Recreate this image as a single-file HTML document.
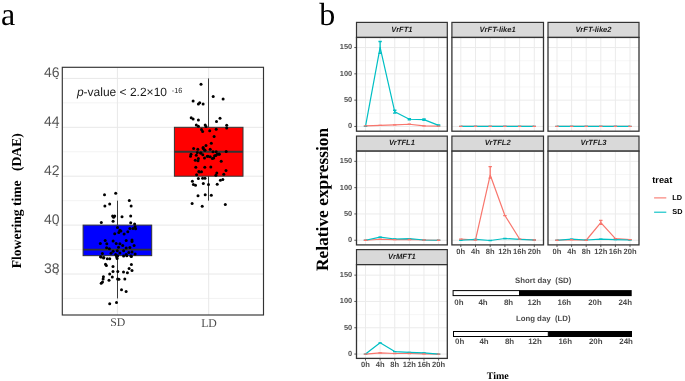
<!DOCTYPE html>
<html><head><meta charset="utf-8"><style>
html,body{margin:0;padding:0;background:#fff;}
svg{display:block;will-change:transform;text-rendering:geometricPrecision;}
</style></head><body>
<svg width="685" height="381" viewBox="0 0 685 381">
<rect width="685" height="381" fill="#fff"/>
<rect x="62.3" y="67.3" width="201.2" height="247.7" fill="#fff"/>
<line x1="62.3" x2="263.5" y1="298.45" y2="298.45" stroke="#f0f0f0" stroke-width="0.8"/>
<line x1="62.3" x2="263.5" y1="249.55" y2="249.55" stroke="#f0f0f0" stroke-width="0.8"/>
<line x1="62.3" x2="263.5" y1="200.65" y2="200.65" stroke="#f0f0f0" stroke-width="0.8"/>
<line x1="62.3" x2="263.5" y1="151.75" y2="151.75" stroke="#f0f0f0" stroke-width="0.8"/>
<line x1="62.3" x2="263.5" y1="102.85" y2="102.85" stroke="#f0f0f0" stroke-width="0.8"/>
<line x1="62.3" x2="263.5" y1="274.00" y2="274.00" stroke="#e8e8e8" stroke-width="1"/>
<line x1="62.3" x2="263.5" y1="225.10" y2="225.10" stroke="#e8e8e8" stroke-width="1"/>
<line x1="62.3" x2="263.5" y1="176.20" y2="176.20" stroke="#e8e8e8" stroke-width="1"/>
<line x1="62.3" x2="263.5" y1="127.30" y2="127.30" stroke="#e8e8e8" stroke-width="1"/>
<line x1="62.3" x2="263.5" y1="78.40" y2="78.40" stroke="#e8e8e8" stroke-width="1"/>
<line x1="117.4" x2="117.4" y1="67.3" y2="315.0" stroke="#e8e8e8" stroke-width="1"/>
<line x1="208.7" x2="208.7" y1="67.3" y2="315.0" stroke="#e8e8e8" stroke-width="1"/>
<line x1="117.5" x2="117.5" y1="200.65" y2="298.45" stroke="#3a3a3a" stroke-width="1"/>
<rect x="83.10" y="225.10" width="68.60" height="30.56" fill="#0000ff" stroke="#333" stroke-width="1"/>
<line x1="83.10" x2="151.70" y1="249.55" y2="249.55" stroke="#333" stroke-width="1.8"/>
<line x1="208.5" x2="208.5" y1="78.40" y2="200.65" stroke="#3a3a3a" stroke-width="1"/>
<rect x="174.40" y="127.30" width="68.60" height="48.90" fill="#ff0000" stroke="#333" stroke-width="1"/>
<line x1="174.40" x2="243.00" y1="151.75" y2="151.75" stroke="#333" stroke-width="1.8"/>
<g fill="#000"><circle cx="104.5" cy="194.7" r="1.5"/><circle cx="115.7" cy="193.2" r="1.5"/><circle cx="129.3" cy="200.5" r="1.5"/><circle cx="109.7" cy="203.9" r="1.5"/><circle cx="104.9" cy="206.0" r="1.5"/><circle cx="131.1" cy="206.0" r="1.5"/><circle cx="112.6" cy="215.9" r="1.5"/><circle cx="114.7" cy="215.9" r="1.5"/><circle cx="113.6" cy="217.3" r="1.5"/><circle cx="122.0" cy="216.7" r="1.5"/><circle cx="130.7" cy="215.9" r="1.5"/><circle cx="113.1" cy="221.2" r="1.5"/><circle cx="101.3" cy="222.6" r="1.5"/><circle cx="130.7" cy="222.8" r="1.5"/><circle cx="134.6" cy="224.0" r="1.5"/><circle cx="135.1" cy="226.7" r="1.5"/><circle cx="117.5" cy="227.5" r="1.5"/><circle cx="129.9" cy="228.5" r="1.5"/><circle cx="133.0" cy="228.5" r="1.5"/><circle cx="135.6" cy="228.8" r="1.5"/><circle cx="119.9" cy="230.2" r="1.5"/><circle cx="120.9" cy="230.9" r="1.5"/><circle cx="118.8" cy="232.5" r="1.5"/><circle cx="127.8" cy="231.7" r="1.5"/><circle cx="114.7" cy="233.7" r="1.5"/><circle cx="124.1" cy="234.1" r="1.5"/><circle cx="105.2" cy="240.4" r="1.5"/><circle cx="113.1" cy="241.1" r="1.5"/><circle cx="126.2" cy="240.4" r="1.5"/><circle cx="132.0" cy="240.0" r="1.5"/><circle cx="132.0" cy="241.4" r="1.5"/><circle cx="100.3" cy="243.5" r="1.5"/><circle cx="106.8" cy="243.8" r="1.5"/><circle cx="116.2" cy="243.5" r="1.5"/><circle cx="119.9" cy="243.8" r="1.5"/><circle cx="122.7" cy="245.6" r="1.5"/><circle cx="134.1" cy="245.6" r="1.5"/><circle cx="118.5" cy="247.2" r="1.5"/><circle cx="106.6" cy="247.7" r="1.5"/><circle cx="109.4" cy="248.7" r="1.5"/><circle cx="126.2" cy="248.0" r="1.5"/><circle cx="129.9" cy="247.4" r="1.5"/><circle cx="117.3" cy="250.8" r="1.5"/><circle cx="113.1" cy="251.2" r="1.5"/><circle cx="123.6" cy="250.8" r="1.5"/><circle cx="111.0" cy="253.3" r="1.5"/><circle cx="102.4" cy="253.5" r="1.5"/><circle cx="119.9" cy="252.9" r="1.5"/><circle cx="128.8" cy="252.4" r="1.5"/><circle cx="132.0" cy="251.9" r="1.5"/><circle cx="135.1" cy="254.0" r="1.5"/><circle cx="115.7" cy="254.5" r="1.5"/><circle cx="126.2" cy="254.5" r="1.5"/><circle cx="123.6" cy="256.1" r="1.5"/><circle cx="130.9" cy="256.1" r="1.5"/><circle cx="116.7" cy="256.6" r="1.5"/><circle cx="100.5" cy="256.8" r="1.5"/><circle cx="103.6" cy="257.9" r="1.5"/><circle cx="107.3" cy="258.7" r="1.5"/><circle cx="109.7" cy="258.7" r="1.5"/><circle cx="117.1" cy="258.5" r="1.5"/><circle cx="101.2" cy="257.0" r="1.5"/><circle cx="103.8" cy="257.6" r="1.5"/><circle cx="116.9" cy="257.0" r="1.5"/><circle cx="117.6" cy="255.7" r="1.5"/><circle cx="126.8" cy="255.7" r="1.5"/><circle cx="131.4" cy="256.6" r="1.5"/><circle cx="105.5" cy="264.2" r="1.5"/><circle cx="106.4" cy="265.5" r="1.5"/><circle cx="113.0" cy="266.6" r="1.5"/><circle cx="131.4" cy="264.5" r="1.5"/><circle cx="129.1" cy="268.4" r="1.5"/><circle cx="132.0" cy="270.5" r="1.5"/><circle cx="113.0" cy="271.4" r="1.5"/><circle cx="117.8" cy="271.4" r="1.5"/><circle cx="123.5" cy="272.1" r="1.5"/><circle cx="127.4" cy="272.7" r="1.5"/><circle cx="109.7" cy="274.0" r="1.5"/><circle cx="103.4" cy="276.7" r="1.5"/><circle cx="112.3" cy="277.1" r="1.5"/><circle cx="103.1" cy="278.9" r="1.5"/><circle cx="117.6" cy="278.9" r="1.5"/><circle cx="118.9" cy="279.3" r="1.5"/><circle cx="124.8" cy="279.0" r="1.5"/><circle cx="109.0" cy="280.2" r="1.5"/><circle cx="102.5" cy="281.9" r="1.5"/><circle cx="101.2" cy="283.2" r="1.5"/><circle cx="121.5" cy="289.8" r="1.5"/><circle cx="126.1" cy="291.5" r="1.5"/><circle cx="109.7" cy="303.8" r="1.5"/><circle cx="116.5" cy="302.5" r="1.5"/><circle cx="201.0" cy="84.2" r="1.5"/><circle cx="213.2" cy="96.4" r="1.5"/><circle cx="223.1" cy="98.9" r="1.5"/><circle cx="193.1" cy="100.9" r="1.5"/><circle cx="198.4" cy="104.1" r="1.5"/><circle cx="199.7" cy="102.8" r="1.5"/><circle cx="203.1" cy="104.1" r="1.5"/><circle cx="191.2" cy="117.7" r="1.5"/><circle cx="193.1" cy="119.0" r="1.5"/><circle cx="198.4" cy="119.9" r="1.5"/><circle cx="220.0" cy="118.3" r="1.5"/><circle cx="216.5" cy="121.6" r="1.5"/><circle cx="196.3" cy="125.1" r="1.5"/><circle cx="198.4" cy="126.2" r="1.5"/><circle cx="205.2" cy="125.1" r="1.5"/><circle cx="206.0" cy="126.4" r="1.5"/><circle cx="226.7" cy="125.3" r="1.5"/><circle cx="226.7" cy="128.0" r="1.5"/><circle cx="216.2" cy="129.3" r="1.5"/><circle cx="201.5" cy="129.5" r="1.5"/><circle cx="202.6" cy="131.4" r="1.5"/><circle cx="209.7" cy="130.8" r="1.5"/><circle cx="214.1" cy="136.4" r="1.5"/><circle cx="211.3" cy="143.2" r="1.5"/><circle cx="206.0" cy="145.5" r="1.5"/><circle cx="203.1" cy="147.6" r="1.5"/><circle cx="193.6" cy="148.6" r="1.5"/><circle cx="197.8" cy="149.3" r="1.5"/><circle cx="204.7" cy="150.0" r="1.5"/><circle cx="210.2" cy="149.3" r="1.5"/><circle cx="213.0" cy="151.8" r="1.5"/><circle cx="216.2" cy="151.8" r="1.5"/><circle cx="226.2" cy="151.6" r="1.5"/><circle cx="197.3" cy="152.6" r="1.5"/><circle cx="201.0" cy="153.1" r="1.5"/><circle cx="191.0" cy="154.2" r="1.5"/><circle cx="196.3" cy="155.2" r="1.5"/><circle cx="217.2" cy="154.2" r="1.5"/><circle cx="219.3" cy="154.2" r="1.5"/><circle cx="190.5" cy="156.3" r="1.5"/><circle cx="207.3" cy="156.3" r="1.5"/><circle cx="214.6" cy="155.8" r="1.5"/><circle cx="203.2" cy="148.4" r="1.5"/><circle cx="205.0" cy="150.2" r="1.5"/><circle cx="200.6" cy="153.1" r="1.5"/><circle cx="219.0" cy="154.1" r="1.5"/><circle cx="202.8" cy="154.8" r="1.5"/><circle cx="215.9" cy="155.4" r="1.5"/><circle cx="208.0" cy="156.3" r="1.5"/><circle cx="210.2" cy="156.8" r="1.5"/><circle cx="204.5" cy="158.1" r="1.5"/><circle cx="213.7" cy="158.1" r="1.5"/><circle cx="212.4" cy="158.5" r="1.5"/><circle cx="198.4" cy="158.5" r="1.5"/><circle cx="195.3" cy="160.3" r="1.5"/><circle cx="198.0" cy="160.7" r="1.5"/><circle cx="221.2" cy="161.3" r="1.5"/><circle cx="195.8" cy="167.3" r="1.5"/><circle cx="204.8" cy="167.3" r="1.5"/><circle cx="210.8" cy="167.1" r="1.5"/><circle cx="226.0" cy="170.6" r="1.5"/><circle cx="198.8" cy="171.5" r="1.5"/><circle cx="201.5" cy="171.8" r="1.5"/><circle cx="216.8" cy="173.0" r="1.5"/><circle cx="196.6" cy="174.7" r="1.5"/><circle cx="215.9" cy="175.2" r="1.5"/><circle cx="223.8" cy="174.3" r="1.5"/><circle cx="199.4" cy="171.9" r="1.5"/><circle cx="198.4" cy="178.6" r="1.5"/><circle cx="202.6" cy="178.2" r="1.5"/><circle cx="205.0" cy="178.2" r="1.5"/><circle cx="192.4" cy="181.3" r="1.5"/><circle cx="220.4" cy="180.3" r="1.5"/><circle cx="222.8" cy="179.4" r="1.5"/><circle cx="193.4" cy="184.5" r="1.5"/><circle cx="195.5" cy="185.2" r="1.5"/><circle cx="203.3" cy="183.6" r="1.5"/><circle cx="208.5" cy="184.5" r="1.5"/><circle cx="217.2" cy="184.2" r="1.5"/><circle cx="198.0" cy="195.7" r="1.5"/><circle cx="205.2" cy="194.7" r="1.5"/><circle cx="211.3" cy="195.2" r="1.5"/><circle cx="192.1" cy="203.6" r="1.5"/><circle cx="202.2" cy="206.2" r="1.5"/><circle cx="225.3" cy="204.4" r="1.5"/></g>
<rect x="62.3" y="67.3" width="201.2" height="247.7" fill="none" stroke="#333" stroke-width="1.15"/>
<text x="59.6" y="77.00" font-family='"Liberation Sans", sans-serif' font-size="14" fill="#555" text-anchor="end">46</text>
<line x1="55.8" x2="57.8" y1="78.40" y2="78.40" stroke="#555" stroke-width="1"/>
<text x="59.6" y="125.90" font-family='"Liberation Sans", sans-serif' font-size="14" fill="#555" text-anchor="end">44</text>
<line x1="55.8" x2="57.8" y1="127.30" y2="127.30" stroke="#555" stroke-width="1"/>
<text x="59.6" y="174.80" font-family='"Liberation Sans", sans-serif' font-size="14" fill="#555" text-anchor="end">42</text>
<line x1="55.8" x2="57.8" y1="176.20" y2="176.20" stroke="#555" stroke-width="1"/>
<text x="59.6" y="223.70" font-family='"Liberation Sans", sans-serif' font-size="14" fill="#555" text-anchor="end">40</text>
<line x1="55.8" x2="57.8" y1="225.10" y2="225.10" stroke="#555" stroke-width="1"/>
<text x="59.6" y="272.60" font-family='"Liberation Sans", sans-serif' font-size="14" fill="#555" text-anchor="end">38</text>
<line x1="55.8" x2="57.8" y1="274.00" y2="274.00" stroke="#555" stroke-width="1"/>
<text x="117.8" y="325.8" font-family='"Liberation Serif", serif' font-size="11.8" fill="#4d4d4d" text-anchor="middle">SD</text>
<text x="209" y="327.3" font-family='"Liberation Serif", serif' font-size="11.8" fill="#4d4d4d" text-anchor="middle">LD</text>
<text x="76.9" y="95.8" font-family='"Liberation Sans", sans-serif' font-size="12" fill="#1a1a1a"><tspan font-style="italic">p</tspan>-value &lt; 2.2×10</text>
<text x="171.8" y="93.1" font-family='"Liberation Sans", sans-serif' font-size="7.4" fill="#1a1a1a">-16</text>
<text transform="translate(21.1,268.3) rotate(-90)" font-family='"Liberation Serif", serif' font-size="13.6" font-weight="bold" fill="#000">Flowering time</text>
<text transform="translate(21.1,171) rotate(-90)" font-family='"Liberation Serif", serif' font-size="13.6" font-weight="bold" fill="#000">(DAE)</text>
<text x="1" y="25" font-family='"Liberation Serif", serif' font-size="32" fill="#000">a</text>
<text x="319.2" y="25" font-family='"Liberation Serif", serif' font-size="32" fill="#000">b</text>
<rect x="356.5" y="22.4" width="90.8" height="15.05" fill="#d9d9d9" stroke="#333" stroke-width="1.2"/>
<text x="401.90" y="31.60" font-family='"Liberation Sans", sans-serif' font-size="7.6" font-weight="bold" font-style="italic" fill="#1a1a1a" text-anchor="middle">VrFT1</text>
<rect x="356.5" y="37.45" width="90.8" height="93.75" fill="#fff"/>
<line x1="356.5" x2="447.3" y1="113.30" y2="113.30" stroke="#f0f0f0" stroke-width="0.6"/>
<line x1="356.5" x2="447.3" y1="87.00" y2="87.00" stroke="#f0f0f0" stroke-width="0.6"/>
<line x1="356.5" x2="447.3" y1="60.70" y2="60.70" stroke="#f0f0f0" stroke-width="0.6"/>
<line x1="356.5" x2="447.3" y1="126.45" y2="126.45" stroke="#ebebeb" stroke-width="1"/>
<line x1="356.5" x2="447.3" y1="100.15" y2="100.15" stroke="#ebebeb" stroke-width="1"/>
<line x1="356.5" x2="447.3" y1="73.85" y2="73.85" stroke="#ebebeb" stroke-width="1"/>
<line x1="356.5" x2="447.3" y1="47.55" y2="47.55" stroke="#ebebeb" stroke-width="1"/>
<line x1="365.50" x2="365.50" y1="37.45" y2="131.2" stroke="#ebebeb" stroke-width="1"/>
<line x1="380.12" x2="380.12" y1="37.45" y2="131.2" stroke="#ebebeb" stroke-width="1"/>
<line x1="394.74" x2="394.74" y1="37.45" y2="131.2" stroke="#ebebeb" stroke-width="1"/>
<line x1="409.36" x2="409.36" y1="37.45" y2="131.2" stroke="#ebebeb" stroke-width="1"/>
<line x1="423.98" x2="423.98" y1="37.45" y2="131.2" stroke="#ebebeb" stroke-width="1"/>
<line x1="438.60" x2="438.60" y1="37.45" y2="131.2" stroke="#ebebeb" stroke-width="1"/>
<polyline points="365.50,125.92 380.12,125.40 394.74,124.87 409.36,124.24 423.98,125.82 438.60,126.03" fill="none" stroke="#F8766D" stroke-width="1.2" stroke-linejoin="round"/>
<polyline points="365.50,126.45 380.12,47.29 394.74,111.72 409.36,119.24 423.98,119.61 438.60,125.40" fill="none" stroke="#00BFC4" stroke-width="1.2" stroke-linejoin="round"/>
<path d="M363.80,126.45h3.4M363.80,126.45h3.4" stroke="#00BFC4" stroke-width="1.3" fill="none"/>
<path d="M378.42,53.34h3.4M378.42,41.50h3.4M380.12,53.34V41.50" stroke="#00BFC4" stroke-width="1.3" fill="none"/>
<path d="M393.04,113.04h3.4M393.04,110.25h3.4M394.74,113.04V110.25" stroke="#00BFC4" stroke-width="1.3" fill="none"/>
<path d="M407.66,119.88h3.4M407.66,118.56h3.4M409.36,119.88V118.56" stroke="#00BFC4" stroke-width="1.3" fill="none"/>
<path d="M422.28,120.24h3.4M422.28,118.98h3.4M423.98,120.24V118.98" stroke="#00BFC4" stroke-width="1.3" fill="none"/>
<path d="M436.90,125.82h3.4M436.90,124.98h3.4M438.60,125.82V124.98" stroke="#00BFC4" stroke-width="1.3" fill="none"/>
<path d="M363.80,125.92h3.4M363.80,125.92h3.4" stroke="#F8766D" stroke-width="1.3" fill="none"/>
<path d="M378.42,125.40h3.4M378.42,125.40h3.4" stroke="#F8766D" stroke-width="1.3" fill="none"/>
<path d="M393.04,124.87h3.4M393.04,124.87h3.4" stroke="#F8766D" stroke-width="1.3" fill="none"/>
<path d="M407.66,124.24h3.4M407.66,124.24h3.4" stroke="#F8766D" stroke-width="1.3" fill="none"/>
<path d="M422.28,125.82h3.4M422.28,125.82h3.4" stroke="#F8766D" stroke-width="1.3" fill="none"/>
<path d="M436.90,126.03h3.4M436.90,126.03h3.4" stroke="#F8766D" stroke-width="1.3" fill="none"/>
<rect x="356.5" y="37.45" width="90.8" height="93.75" fill="none" stroke="#333" stroke-width="1.3"/>
<text x="352.20" y="128.35" font-family='"Liberation Sans", sans-serif' font-size="7.4" font-weight="bold" fill="#4d4d4d" text-anchor="end">0</text>
<line x1="354.30" x2="356.50" y1="126.45" y2="126.45" stroke="#333" stroke-width="0.8"/>
<text x="352.20" y="102.05" font-family='"Liberation Sans", sans-serif' font-size="7.4" font-weight="bold" fill="#4d4d4d" text-anchor="end">50</text>
<line x1="354.30" x2="356.50" y1="100.15" y2="100.15" stroke="#333" stroke-width="0.8"/>
<text x="352.20" y="75.75" font-family='"Liberation Sans", sans-serif' font-size="7.4" font-weight="bold" fill="#4d4d4d" text-anchor="end">100</text>
<line x1="354.30" x2="356.50" y1="73.85" y2="73.85" stroke="#333" stroke-width="0.8"/>
<text x="352.20" y="49.45" font-family='"Liberation Sans", sans-serif' font-size="7.4" font-weight="bold" fill="#4d4d4d" text-anchor="end">150</text>
<line x1="354.30" x2="356.50" y1="47.55" y2="47.55" stroke="#333" stroke-width="0.8"/>
<rect x="451.9" y="22.4" width="91.6" height="15.05" fill="#d9d9d9" stroke="#333" stroke-width="1.2"/>
<text x="497.70" y="31.60" font-family='"Liberation Sans", sans-serif' font-size="7.6" font-weight="bold" font-style="italic" fill="#1a1a1a" text-anchor="middle">VrFT-like1</text>
<rect x="451.9" y="37.45" width="91.6" height="93.75" fill="#fff"/>
<line x1="451.9" x2="543.5" y1="113.30" y2="113.30" stroke="#f0f0f0" stroke-width="0.6"/>
<line x1="451.9" x2="543.5" y1="87.00" y2="87.00" stroke="#f0f0f0" stroke-width="0.6"/>
<line x1="451.9" x2="543.5" y1="60.70" y2="60.70" stroke="#f0f0f0" stroke-width="0.6"/>
<line x1="451.9" x2="543.5" y1="126.45" y2="126.45" stroke="#ebebeb" stroke-width="1"/>
<line x1="451.9" x2="543.5" y1="100.15" y2="100.15" stroke="#ebebeb" stroke-width="1"/>
<line x1="451.9" x2="543.5" y1="73.85" y2="73.85" stroke="#ebebeb" stroke-width="1"/>
<line x1="451.9" x2="543.5" y1="47.55" y2="47.55" stroke="#ebebeb" stroke-width="1"/>
<line x1="460.80" x2="460.80" y1="37.45" y2="131.2" stroke="#ebebeb" stroke-width="1"/>
<line x1="475.50" x2="475.50" y1="37.45" y2="131.2" stroke="#ebebeb" stroke-width="1"/>
<line x1="490.20" x2="490.20" y1="37.45" y2="131.2" stroke="#ebebeb" stroke-width="1"/>
<line x1="504.90" x2="504.90" y1="37.45" y2="131.2" stroke="#ebebeb" stroke-width="1"/>
<line x1="519.60" x2="519.60" y1="37.45" y2="131.2" stroke="#ebebeb" stroke-width="1"/>
<line x1="534.30" x2="534.30" y1="37.45" y2="131.2" stroke="#ebebeb" stroke-width="1"/>
<polyline points="460.80,126.29 475.50,126.29 490.20,126.29 504.90,126.29 519.60,126.29 534.30,126.29" fill="none" stroke="#F8766D" stroke-width="1.2" stroke-linejoin="round"/>
<polyline points="460.80,126.29 475.50,126.29 490.20,126.29 504.90,126.29 519.60,126.29 534.30,126.29" fill="none" stroke="#00BFC4" stroke-width="1.2" stroke-linejoin="round"/>
<path d="M459.10,126.29h3.4M459.10,126.29h3.4" stroke="#00BFC4" stroke-width="1.3" fill="none"/>
<path d="M473.80,126.29h3.4M473.80,126.29h3.4" stroke="#00BFC4" stroke-width="1.3" fill="none"/>
<path d="M488.50,126.29h3.4M488.50,126.29h3.4" stroke="#00BFC4" stroke-width="1.3" fill="none"/>
<path d="M503.20,126.29h3.4M503.20,126.29h3.4" stroke="#00BFC4" stroke-width="1.3" fill="none"/>
<path d="M517.90,126.29h3.4M517.90,126.29h3.4" stroke="#00BFC4" stroke-width="1.3" fill="none"/>
<path d="M532.60,126.29h3.4M532.60,126.29h3.4" stroke="#00BFC4" stroke-width="1.3" fill="none"/>
<path d="M459.10,126.29h3.4M459.10,126.29h3.4" stroke="#F8766D" stroke-width="1.3" fill="none"/>
<path d="M473.80,126.29h3.4M473.80,126.29h3.4" stroke="#F8766D" stroke-width="1.3" fill="none"/>
<path d="M488.50,126.29h3.4M488.50,126.29h3.4" stroke="#F8766D" stroke-width="1.3" fill="none"/>
<path d="M503.20,126.29h3.4M503.20,126.29h3.4" stroke="#F8766D" stroke-width="1.3" fill="none"/>
<path d="M517.90,126.29h3.4M517.90,126.29h3.4" stroke="#F8766D" stroke-width="1.3" fill="none"/>
<path d="M532.60,126.29h3.4M532.60,126.29h3.4" stroke="#F8766D" stroke-width="1.3" fill="none"/>
<rect x="451.9" y="37.45" width="91.6" height="93.75" fill="none" stroke="#333" stroke-width="1.3"/>
<rect x="548.0" y="22.4" width="91.0" height="15.05" fill="#d9d9d9" stroke="#333" stroke-width="1.2"/>
<text x="593.50" y="31.60" font-family='"Liberation Sans", sans-serif' font-size="7.6" font-weight="bold" font-style="italic" fill="#1a1a1a" text-anchor="middle">VrFT-like2</text>
<rect x="548.0" y="37.45" width="91.0" height="93.75" fill="#fff"/>
<line x1="548.0" x2="639.0" y1="113.30" y2="113.30" stroke="#f0f0f0" stroke-width="0.6"/>
<line x1="548.0" x2="639.0" y1="87.00" y2="87.00" stroke="#f0f0f0" stroke-width="0.6"/>
<line x1="548.0" x2="639.0" y1="60.70" y2="60.70" stroke="#f0f0f0" stroke-width="0.6"/>
<line x1="548.0" x2="639.0" y1="126.45" y2="126.45" stroke="#ebebeb" stroke-width="1"/>
<line x1="548.0" x2="639.0" y1="100.15" y2="100.15" stroke="#ebebeb" stroke-width="1"/>
<line x1="548.0" x2="639.0" y1="73.85" y2="73.85" stroke="#ebebeb" stroke-width="1"/>
<line x1="548.0" x2="639.0" y1="47.55" y2="47.55" stroke="#ebebeb" stroke-width="1"/>
<line x1="557.00" x2="557.00" y1="37.45" y2="131.2" stroke="#ebebeb" stroke-width="1"/>
<line x1="571.60" x2="571.60" y1="37.45" y2="131.2" stroke="#ebebeb" stroke-width="1"/>
<line x1="586.20" x2="586.20" y1="37.45" y2="131.2" stroke="#ebebeb" stroke-width="1"/>
<line x1="600.80" x2="600.80" y1="37.45" y2="131.2" stroke="#ebebeb" stroke-width="1"/>
<line x1="615.40" x2="615.40" y1="37.45" y2="131.2" stroke="#ebebeb" stroke-width="1"/>
<line x1="630.00" x2="630.00" y1="37.45" y2="131.2" stroke="#ebebeb" stroke-width="1"/>
<polyline points="557.00,126.29 571.60,126.29 586.20,126.29 600.80,126.29 615.40,126.29 630.00,126.29" fill="none" stroke="#F8766D" stroke-width="1.2" stroke-linejoin="round"/>
<polyline points="557.00,126.29 571.60,126.29 586.20,126.29 600.80,126.29 615.40,126.29 630.00,126.29" fill="none" stroke="#00BFC4" stroke-width="1.2" stroke-linejoin="round"/>
<path d="M555.30,126.29h3.4M555.30,126.29h3.4" stroke="#00BFC4" stroke-width="1.3" fill="none"/>
<path d="M569.90,126.29h3.4M569.90,126.29h3.4" stroke="#00BFC4" stroke-width="1.3" fill="none"/>
<path d="M584.50,126.29h3.4M584.50,126.29h3.4" stroke="#00BFC4" stroke-width="1.3" fill="none"/>
<path d="M599.10,126.29h3.4M599.10,126.29h3.4" stroke="#00BFC4" stroke-width="1.3" fill="none"/>
<path d="M613.70,126.29h3.4M613.70,126.29h3.4" stroke="#00BFC4" stroke-width="1.3" fill="none"/>
<path d="M628.30,126.29h3.4M628.30,126.29h3.4" stroke="#00BFC4" stroke-width="1.3" fill="none"/>
<path d="M555.30,126.29h3.4M555.30,126.29h3.4" stroke="#F8766D" stroke-width="1.3" fill="none"/>
<path d="M569.90,126.29h3.4M569.90,126.29h3.4" stroke="#F8766D" stroke-width="1.3" fill="none"/>
<path d="M584.50,126.29h3.4M584.50,126.29h3.4" stroke="#F8766D" stroke-width="1.3" fill="none"/>
<path d="M599.10,126.29h3.4M599.10,126.29h3.4" stroke="#F8766D" stroke-width="1.3" fill="none"/>
<path d="M613.70,126.29h3.4M613.70,126.29h3.4" stroke="#F8766D" stroke-width="1.3" fill="none"/>
<path d="M628.30,126.29h3.4M628.30,126.29h3.4" stroke="#F8766D" stroke-width="1.3" fill="none"/>
<rect x="548.0" y="37.45" width="91.0" height="93.75" fill="none" stroke="#333" stroke-width="1.3"/>
<rect x="356.5" y="136.1" width="90.8" height="15.05" fill="#d9d9d9" stroke="#333" stroke-width="1.2"/>
<text x="401.90" y="145.30" font-family='"Liberation Sans", sans-serif' font-size="7.6" font-weight="bold" font-style="italic" fill="#1a1a1a" text-anchor="middle">VrTFL1</text>
<rect x="356.5" y="151.15" width="90.8" height="93.75" fill="#fff"/>
<line x1="356.5" x2="447.3" y1="227.10" y2="227.10" stroke="#f0f0f0" stroke-width="0.6"/>
<line x1="356.5" x2="447.3" y1="200.80" y2="200.80" stroke="#f0f0f0" stroke-width="0.6"/>
<line x1="356.5" x2="447.3" y1="174.50" y2="174.50" stroke="#f0f0f0" stroke-width="0.6"/>
<line x1="356.5" x2="447.3" y1="240.25" y2="240.25" stroke="#ebebeb" stroke-width="1"/>
<line x1="356.5" x2="447.3" y1="213.95" y2="213.95" stroke="#ebebeb" stroke-width="1"/>
<line x1="356.5" x2="447.3" y1="187.65" y2="187.65" stroke="#ebebeb" stroke-width="1"/>
<line x1="356.5" x2="447.3" y1="161.35" y2="161.35" stroke="#ebebeb" stroke-width="1"/>
<line x1="365.50" x2="365.50" y1="151.15" y2="244.9" stroke="#ebebeb" stroke-width="1"/>
<line x1="380.12" x2="380.12" y1="151.15" y2="244.9" stroke="#ebebeb" stroke-width="1"/>
<line x1="394.74" x2="394.74" y1="151.15" y2="244.9" stroke="#ebebeb" stroke-width="1"/>
<line x1="409.36" x2="409.36" y1="151.15" y2="244.9" stroke="#ebebeb" stroke-width="1"/>
<line x1="423.98" x2="423.98" y1="151.15" y2="244.9" stroke="#ebebeb" stroke-width="1"/>
<line x1="438.60" x2="438.60" y1="151.15" y2="244.9" stroke="#ebebeb" stroke-width="1"/>
<polyline points="365.50,240.25 380.12,239.25 394.74,239.72 409.36,239.51 423.98,239.99 438.60,240.25" fill="none" stroke="#F8766D" stroke-width="1.2" stroke-linejoin="round"/>
<polyline points="365.50,240.25 380.12,237.09 394.74,238.99 409.36,238.72 423.98,239.99 438.60,240.25" fill="none" stroke="#00BFC4" stroke-width="1.2" stroke-linejoin="round"/>
<path d="M363.80,240.25h3.4M363.80,240.25h3.4" stroke="#00BFC4" stroke-width="1.3" fill="none"/>
<path d="M378.42,237.09h3.4M378.42,237.09h3.4" stroke="#00BFC4" stroke-width="1.3" fill="none"/>
<path d="M393.04,238.99h3.4M393.04,238.99h3.4" stroke="#00BFC4" stroke-width="1.3" fill="none"/>
<path d="M407.66,238.72h3.4M407.66,238.72h3.4" stroke="#00BFC4" stroke-width="1.3" fill="none"/>
<path d="M422.28,239.99h3.4M422.28,239.99h3.4" stroke="#00BFC4" stroke-width="1.3" fill="none"/>
<path d="M436.90,240.25h3.4M436.90,240.25h3.4" stroke="#00BFC4" stroke-width="1.3" fill="none"/>
<path d="M363.80,240.25h3.4M363.80,240.25h3.4" stroke="#F8766D" stroke-width="1.3" fill="none"/>
<path d="M378.42,239.25h3.4M378.42,239.25h3.4" stroke="#F8766D" stroke-width="1.3" fill="none"/>
<path d="M393.04,239.72h3.4M393.04,239.72h3.4" stroke="#F8766D" stroke-width="1.3" fill="none"/>
<path d="M407.66,239.51h3.4M407.66,239.51h3.4" stroke="#F8766D" stroke-width="1.3" fill="none"/>
<path d="M422.28,239.99h3.4M422.28,239.99h3.4" stroke="#F8766D" stroke-width="1.3" fill="none"/>
<path d="M436.90,240.25h3.4M436.90,240.25h3.4" stroke="#F8766D" stroke-width="1.3" fill="none"/>
<rect x="356.5" y="151.15" width="90.8" height="93.75" fill="none" stroke="#333" stroke-width="1.3"/>
<text x="352.20" y="242.15" font-family='"Liberation Sans", sans-serif' font-size="7.4" font-weight="bold" fill="#4d4d4d" text-anchor="end">0</text>
<line x1="354.30" x2="356.50" y1="240.25" y2="240.25" stroke="#333" stroke-width="0.8"/>
<text x="352.20" y="215.85" font-family='"Liberation Sans", sans-serif' font-size="7.4" font-weight="bold" fill="#4d4d4d" text-anchor="end">50</text>
<line x1="354.30" x2="356.50" y1="213.95" y2="213.95" stroke="#333" stroke-width="0.8"/>
<text x="352.20" y="189.55" font-family='"Liberation Sans", sans-serif' font-size="7.4" font-weight="bold" fill="#4d4d4d" text-anchor="end">100</text>
<line x1="354.30" x2="356.50" y1="187.65" y2="187.65" stroke="#333" stroke-width="0.8"/>
<text x="352.20" y="163.25" font-family='"Liberation Sans", sans-serif' font-size="7.4" font-weight="bold" fill="#4d4d4d" text-anchor="end">150</text>
<line x1="354.30" x2="356.50" y1="161.35" y2="161.35" stroke="#333" stroke-width="0.8"/>
<rect x="451.9" y="136.1" width="91.6" height="15.05" fill="#d9d9d9" stroke="#333" stroke-width="1.2"/>
<text x="497.70" y="145.30" font-family='"Liberation Sans", sans-serif' font-size="7.6" font-weight="bold" font-style="italic" fill="#1a1a1a" text-anchor="middle">VrTFL2</text>
<rect x="451.9" y="151.15" width="91.6" height="93.75" fill="#fff"/>
<line x1="451.9" x2="543.5" y1="227.10" y2="227.10" stroke="#f0f0f0" stroke-width="0.6"/>
<line x1="451.9" x2="543.5" y1="200.80" y2="200.80" stroke="#f0f0f0" stroke-width="0.6"/>
<line x1="451.9" x2="543.5" y1="174.50" y2="174.50" stroke="#f0f0f0" stroke-width="0.6"/>
<line x1="451.9" x2="543.5" y1="240.25" y2="240.25" stroke="#ebebeb" stroke-width="1"/>
<line x1="451.9" x2="543.5" y1="213.95" y2="213.95" stroke="#ebebeb" stroke-width="1"/>
<line x1="451.9" x2="543.5" y1="187.65" y2="187.65" stroke="#ebebeb" stroke-width="1"/>
<line x1="451.9" x2="543.5" y1="161.35" y2="161.35" stroke="#ebebeb" stroke-width="1"/>
<line x1="460.80" x2="460.80" y1="151.15" y2="244.9" stroke="#ebebeb" stroke-width="1"/>
<line x1="475.50" x2="475.50" y1="151.15" y2="244.9" stroke="#ebebeb" stroke-width="1"/>
<line x1="490.20" x2="490.20" y1="151.15" y2="244.9" stroke="#ebebeb" stroke-width="1"/>
<line x1="504.90" x2="504.90" y1="151.15" y2="244.9" stroke="#ebebeb" stroke-width="1"/>
<line x1="519.60" x2="519.60" y1="151.15" y2="244.9" stroke="#ebebeb" stroke-width="1"/>
<line x1="534.30" x2="534.30" y1="151.15" y2="244.9" stroke="#ebebeb" stroke-width="1"/>
<polyline points="460.80,239.20 475.50,239.99 490.20,175.03 504.90,215.53 519.60,239.04 534.30,239.99" fill="none" stroke="#F8766D" stroke-width="1.2" stroke-linejoin="round"/>
<polyline points="460.80,240.25 475.50,239.46 490.20,240.51 504.90,238.51 519.60,239.46 534.30,239.99" fill="none" stroke="#00BFC4" stroke-width="1.2" stroke-linejoin="round"/>
<path d="M459.10,240.25h3.4M459.10,240.25h3.4" stroke="#00BFC4" stroke-width="1.3" fill="none"/>
<path d="M473.80,239.46h3.4M473.80,239.46h3.4" stroke="#00BFC4" stroke-width="1.3" fill="none"/>
<path d="M488.50,240.51h3.4M488.50,240.51h3.4" stroke="#00BFC4" stroke-width="1.3" fill="none"/>
<path d="M503.20,238.51h3.4M503.20,238.51h3.4" stroke="#00BFC4" stroke-width="1.3" fill="none"/>
<path d="M517.90,239.46h3.4M517.90,239.46h3.4" stroke="#00BFC4" stroke-width="1.3" fill="none"/>
<path d="M532.60,239.99h3.4M532.60,239.99h3.4" stroke="#00BFC4" stroke-width="1.3" fill="none"/>
<path d="M459.10,239.20h3.4M459.10,239.20h3.4" stroke="#F8766D" stroke-width="1.3" fill="none"/>
<path d="M473.80,239.99h3.4M473.80,239.99h3.4" stroke="#F8766D" stroke-width="1.3" fill="none"/>
<path d="M488.50,178.18h3.4M488.50,166.61h3.4M490.20,178.18V166.61" stroke="#F8766D" stroke-width="1.3" fill="none"/>
<path d="M503.20,215.53h3.4M503.20,215.53h3.4" stroke="#F8766D" stroke-width="1.3" fill="none"/>
<path d="M517.90,239.04h3.4M517.90,239.04h3.4" stroke="#F8766D" stroke-width="1.3" fill="none"/>
<path d="M532.60,239.99h3.4M532.60,239.99h3.4" stroke="#F8766D" stroke-width="1.3" fill="none"/>
<rect x="451.9" y="151.15" width="91.6" height="93.75" fill="none" stroke="#333" stroke-width="1.3"/>
<line x1="460.80" x2="460.80" y1="244.9" y2="247.10" stroke="#333" stroke-width="0.8"/>
<text x="460.80" y="253.50" font-family='"Liberation Sans", sans-serif' font-size="7.6" font-weight="bold" fill="#4d4d4d" text-anchor="middle">0h</text>
<line x1="475.50" x2="475.50" y1="244.9" y2="247.10" stroke="#333" stroke-width="0.8"/>
<text x="475.50" y="253.50" font-family='"Liberation Sans", sans-serif' font-size="7.6" font-weight="bold" fill="#4d4d4d" text-anchor="middle">4h</text>
<line x1="490.20" x2="490.20" y1="244.9" y2="247.10" stroke="#333" stroke-width="0.8"/>
<text x="490.20" y="253.50" font-family='"Liberation Sans", sans-serif' font-size="7.6" font-weight="bold" fill="#4d4d4d" text-anchor="middle">8h</text>
<line x1="504.90" x2="504.90" y1="244.9" y2="247.10" stroke="#333" stroke-width="0.8"/>
<text x="504.90" y="253.50" font-family='"Liberation Sans", sans-serif' font-size="7.6" font-weight="bold" fill="#4d4d4d" text-anchor="middle">12h</text>
<line x1="519.60" x2="519.60" y1="244.9" y2="247.10" stroke="#333" stroke-width="0.8"/>
<text x="519.60" y="253.50" font-family='"Liberation Sans", sans-serif' font-size="7.6" font-weight="bold" fill="#4d4d4d" text-anchor="middle">16h</text>
<line x1="534.30" x2="534.30" y1="244.9" y2="247.10" stroke="#333" stroke-width="0.8"/>
<text x="534.30" y="253.50" font-family='"Liberation Sans", sans-serif' font-size="7.6" font-weight="bold" fill="#4d4d4d" text-anchor="middle">20h</text>
<rect x="548.0" y="136.1" width="91.0" height="15.05" fill="#d9d9d9" stroke="#333" stroke-width="1.2"/>
<text x="593.50" y="145.30" font-family='"Liberation Sans", sans-serif' font-size="7.6" font-weight="bold" font-style="italic" fill="#1a1a1a" text-anchor="middle">VrTFL3</text>
<rect x="548.0" y="151.15" width="91.0" height="93.75" fill="#fff"/>
<line x1="548.0" x2="639.0" y1="227.10" y2="227.10" stroke="#f0f0f0" stroke-width="0.6"/>
<line x1="548.0" x2="639.0" y1="200.80" y2="200.80" stroke="#f0f0f0" stroke-width="0.6"/>
<line x1="548.0" x2="639.0" y1="174.50" y2="174.50" stroke="#f0f0f0" stroke-width="0.6"/>
<line x1="548.0" x2="639.0" y1="240.25" y2="240.25" stroke="#ebebeb" stroke-width="1"/>
<line x1="548.0" x2="639.0" y1="213.95" y2="213.95" stroke="#ebebeb" stroke-width="1"/>
<line x1="548.0" x2="639.0" y1="187.65" y2="187.65" stroke="#ebebeb" stroke-width="1"/>
<line x1="548.0" x2="639.0" y1="161.35" y2="161.35" stroke="#ebebeb" stroke-width="1"/>
<line x1="557.00" x2="557.00" y1="151.15" y2="244.9" stroke="#ebebeb" stroke-width="1"/>
<line x1="571.60" x2="571.60" y1="151.15" y2="244.9" stroke="#ebebeb" stroke-width="1"/>
<line x1="586.20" x2="586.20" y1="151.15" y2="244.9" stroke="#ebebeb" stroke-width="1"/>
<line x1="600.80" x2="600.80" y1="151.15" y2="244.9" stroke="#ebebeb" stroke-width="1"/>
<line x1="615.40" x2="615.40" y1="151.15" y2="244.9" stroke="#ebebeb" stroke-width="1"/>
<line x1="630.00" x2="630.00" y1="151.15" y2="244.9" stroke="#ebebeb" stroke-width="1"/>
<polyline points="557.00,240.25 571.60,239.72 586.20,240.25 600.80,222.58 615.40,238.67 630.00,239.72" fill="none" stroke="#F8766D" stroke-width="1.2" stroke-linejoin="round"/>
<polyline points="557.00,240.25 571.60,239.20 586.20,239.99 600.80,239.20 615.40,239.72 630.00,239.99" fill="none" stroke="#00BFC4" stroke-width="1.2" stroke-linejoin="round"/>
<path d="M555.30,240.25h3.4M555.30,240.25h3.4" stroke="#00BFC4" stroke-width="1.3" fill="none"/>
<path d="M569.90,239.20h3.4M569.90,239.20h3.4" stroke="#00BFC4" stroke-width="1.3" fill="none"/>
<path d="M584.50,239.99h3.4M584.50,239.99h3.4" stroke="#00BFC4" stroke-width="1.3" fill="none"/>
<path d="M599.10,239.20h3.4M599.10,239.20h3.4" stroke="#00BFC4" stroke-width="1.3" fill="none"/>
<path d="M613.70,239.72h3.4M613.70,239.72h3.4" stroke="#00BFC4" stroke-width="1.3" fill="none"/>
<path d="M628.30,239.99h3.4M628.30,239.99h3.4" stroke="#00BFC4" stroke-width="1.3" fill="none"/>
<path d="M555.30,240.25h3.4M555.30,240.25h3.4" stroke="#F8766D" stroke-width="1.3" fill="none"/>
<path d="M569.90,239.72h3.4M569.90,239.72h3.4" stroke="#F8766D" stroke-width="1.3" fill="none"/>
<path d="M584.50,240.25h3.4M584.50,240.25h3.4" stroke="#F8766D" stroke-width="1.3" fill="none"/>
<path d="M599.10,224.47h3.4M599.10,220.37h3.4M600.80,224.47V220.37" stroke="#F8766D" stroke-width="1.3" fill="none"/>
<path d="M613.70,238.67h3.4M613.70,238.67h3.4" stroke="#F8766D" stroke-width="1.3" fill="none"/>
<path d="M628.30,239.72h3.4M628.30,239.72h3.4" stroke="#F8766D" stroke-width="1.3" fill="none"/>
<rect x="548.0" y="151.15" width="91.0" height="93.75" fill="none" stroke="#333" stroke-width="1.3"/>
<line x1="557.00" x2="557.00" y1="244.9" y2="247.10" stroke="#333" stroke-width="0.8"/>
<text x="557.00" y="253.50" font-family='"Liberation Sans", sans-serif' font-size="7.6" font-weight="bold" fill="#4d4d4d" text-anchor="middle">0h</text>
<line x1="571.60" x2="571.60" y1="244.9" y2="247.10" stroke="#333" stroke-width="0.8"/>
<text x="571.60" y="253.50" font-family='"Liberation Sans", sans-serif' font-size="7.6" font-weight="bold" fill="#4d4d4d" text-anchor="middle">4h</text>
<line x1="586.20" x2="586.20" y1="244.9" y2="247.10" stroke="#333" stroke-width="0.8"/>
<text x="586.20" y="253.50" font-family='"Liberation Sans", sans-serif' font-size="7.6" font-weight="bold" fill="#4d4d4d" text-anchor="middle">8h</text>
<line x1="600.80" x2="600.80" y1="244.9" y2="247.10" stroke="#333" stroke-width="0.8"/>
<text x="600.80" y="253.50" font-family='"Liberation Sans", sans-serif' font-size="7.6" font-weight="bold" fill="#4d4d4d" text-anchor="middle">12h</text>
<line x1="615.40" x2="615.40" y1="244.9" y2="247.10" stroke="#333" stroke-width="0.8"/>
<text x="615.40" y="253.50" font-family='"Liberation Sans", sans-serif' font-size="7.6" font-weight="bold" fill="#4d4d4d" text-anchor="middle">16h</text>
<line x1="630.00" x2="630.00" y1="244.9" y2="247.10" stroke="#333" stroke-width="0.8"/>
<text x="630.00" y="253.50" font-family='"Liberation Sans", sans-serif' font-size="7.6" font-weight="bold" fill="#4d4d4d" text-anchor="middle">20h</text>
<rect x="356.5" y="249.6" width="90.8" height="15.05" fill="#d9d9d9" stroke="#333" stroke-width="1.2"/>
<text x="401.90" y="258.80" font-family='"Liberation Sans", sans-serif' font-size="7.6" font-weight="bold" font-style="italic" fill="#1a1a1a" text-anchor="middle">VrMFT1</text>
<rect x="356.5" y="264.65" width="90.8" height="93.75" fill="#fff"/>
<line x1="356.5" x2="447.3" y1="340.90" y2="340.90" stroke="#f0f0f0" stroke-width="0.6"/>
<line x1="356.5" x2="447.3" y1="314.60" y2="314.60" stroke="#f0f0f0" stroke-width="0.6"/>
<line x1="356.5" x2="447.3" y1="288.30" y2="288.30" stroke="#f0f0f0" stroke-width="0.6"/>
<line x1="356.5" x2="447.3" y1="354.05" y2="354.05" stroke="#ebebeb" stroke-width="1"/>
<line x1="356.5" x2="447.3" y1="327.75" y2="327.75" stroke="#ebebeb" stroke-width="1"/>
<line x1="356.5" x2="447.3" y1="301.45" y2="301.45" stroke="#ebebeb" stroke-width="1"/>
<line x1="356.5" x2="447.3" y1="275.15" y2="275.15" stroke="#ebebeb" stroke-width="1"/>
<line x1="365.50" x2="365.50" y1="264.65" y2="358.4" stroke="#ebebeb" stroke-width="1"/>
<line x1="380.12" x2="380.12" y1="264.65" y2="358.4" stroke="#ebebeb" stroke-width="1"/>
<line x1="394.74" x2="394.74" y1="264.65" y2="358.4" stroke="#ebebeb" stroke-width="1"/>
<line x1="409.36" x2="409.36" y1="264.65" y2="358.4" stroke="#ebebeb" stroke-width="1"/>
<line x1="423.98" x2="423.98" y1="264.65" y2="358.4" stroke="#ebebeb" stroke-width="1"/>
<line x1="438.60" x2="438.60" y1="264.65" y2="358.4" stroke="#ebebeb" stroke-width="1"/>
<polyline points="365.50,354.05 380.12,352.79 394.74,353.52 409.36,353.52 423.98,353.79 438.60,354.05" fill="none" stroke="#F8766D" stroke-width="1.2" stroke-linejoin="round"/>
<polyline points="365.50,354.05 380.12,342.85 394.74,351.58 409.36,352.31 423.98,352.79 438.60,354.05" fill="none" stroke="#00BFC4" stroke-width="1.2" stroke-linejoin="round"/>
<path d="M363.80,354.05h3.4M363.80,354.05h3.4" stroke="#00BFC4" stroke-width="1.3" fill="none"/>
<path d="M378.42,342.85h3.4M378.42,342.85h3.4" stroke="#00BFC4" stroke-width="1.3" fill="none"/>
<path d="M393.04,351.58h3.4M393.04,351.58h3.4" stroke="#00BFC4" stroke-width="1.3" fill="none"/>
<path d="M407.66,352.31h3.4M407.66,352.31h3.4" stroke="#00BFC4" stroke-width="1.3" fill="none"/>
<path d="M422.28,352.79h3.4M422.28,352.79h3.4" stroke="#00BFC4" stroke-width="1.3" fill="none"/>
<path d="M436.90,354.05h3.4M436.90,354.05h3.4" stroke="#00BFC4" stroke-width="1.3" fill="none"/>
<path d="M363.80,354.05h3.4M363.80,354.05h3.4" stroke="#F8766D" stroke-width="1.3" fill="none"/>
<path d="M378.42,352.79h3.4M378.42,352.79h3.4" stroke="#F8766D" stroke-width="1.3" fill="none"/>
<path d="M393.04,353.52h3.4M393.04,353.52h3.4" stroke="#F8766D" stroke-width="1.3" fill="none"/>
<path d="M407.66,353.52h3.4M407.66,353.52h3.4" stroke="#F8766D" stroke-width="1.3" fill="none"/>
<path d="M422.28,353.79h3.4M422.28,353.79h3.4" stroke="#F8766D" stroke-width="1.3" fill="none"/>
<path d="M436.90,354.05h3.4M436.90,354.05h3.4" stroke="#F8766D" stroke-width="1.3" fill="none"/>
<rect x="356.5" y="264.65" width="90.8" height="93.75" fill="none" stroke="#333" stroke-width="1.3"/>
<text x="352.20" y="355.95" font-family='"Liberation Sans", sans-serif' font-size="7.4" font-weight="bold" fill="#4d4d4d" text-anchor="end">0</text>
<line x1="354.30" x2="356.50" y1="354.05" y2="354.05" stroke="#333" stroke-width="0.8"/>
<text x="352.20" y="329.65" font-family='"Liberation Sans", sans-serif' font-size="7.4" font-weight="bold" fill="#4d4d4d" text-anchor="end">50</text>
<line x1="354.30" x2="356.50" y1="327.75" y2="327.75" stroke="#333" stroke-width="0.8"/>
<text x="352.20" y="303.35" font-family='"Liberation Sans", sans-serif' font-size="7.4" font-weight="bold" fill="#4d4d4d" text-anchor="end">100</text>
<line x1="354.30" x2="356.50" y1="301.45" y2="301.45" stroke="#333" stroke-width="0.8"/>
<text x="352.20" y="277.05" font-family='"Liberation Sans", sans-serif' font-size="7.4" font-weight="bold" fill="#4d4d4d" text-anchor="end">150</text>
<line x1="354.30" x2="356.50" y1="275.15" y2="275.15" stroke="#333" stroke-width="0.8"/>
<line x1="365.50" x2="365.50" y1="358.4" y2="360.60" stroke="#333" stroke-width="0.8"/>
<text x="365.50" y="367.00" font-family='"Liberation Sans", sans-serif' font-size="7.6" font-weight="bold" fill="#4d4d4d" text-anchor="middle">0h</text>
<line x1="380.12" x2="380.12" y1="358.4" y2="360.60" stroke="#333" stroke-width="0.8"/>
<text x="380.12" y="367.00" font-family='"Liberation Sans", sans-serif' font-size="7.6" font-weight="bold" fill="#4d4d4d" text-anchor="middle">4h</text>
<line x1="394.74" x2="394.74" y1="358.4" y2="360.60" stroke="#333" stroke-width="0.8"/>
<text x="394.74" y="367.00" font-family='"Liberation Sans", sans-serif' font-size="7.6" font-weight="bold" fill="#4d4d4d" text-anchor="middle">8h</text>
<line x1="409.36" x2="409.36" y1="358.4" y2="360.60" stroke="#333" stroke-width="0.8"/>
<text x="409.36" y="367.00" font-family='"Liberation Sans", sans-serif' font-size="7.6" font-weight="bold" fill="#4d4d4d" text-anchor="middle">12h</text>
<line x1="423.98" x2="423.98" y1="358.4" y2="360.60" stroke="#333" stroke-width="0.8"/>
<text x="423.98" y="367.00" font-family='"Liberation Sans", sans-serif' font-size="7.6" font-weight="bold" fill="#4d4d4d" text-anchor="middle">16h</text>
<line x1="438.60" x2="438.60" y1="358.4" y2="360.60" stroke="#333" stroke-width="0.8"/>
<text x="438.60" y="367.00" font-family='"Liberation Sans", sans-serif' font-size="7.6" font-weight="bold" fill="#4d4d4d" text-anchor="middle">20h</text>
<text transform="translate(327.7,271) rotate(-90)" font-family='"Liberation Serif", serif' font-size="17.4" font-weight="bold" fill="#000">Relative expression</text>
<text x="497.7" y="378.9" font-family='"Liberation Serif", serif' font-size="10" font-weight="bold" fill="#000" text-anchor="middle">Time</text>
<text x="652.3" y="182.6" font-family='"Liberation Sans", sans-serif' font-size="9.2" font-weight="bold" fill="#000">treat</text>
<line x1="654.1" x2="666.3" y1="197.9" y2="197.9" stroke="#F8766D" stroke-width="1.1"/>
<line x1="654.1" x2="666.3" y1="212.2" y2="212.2" stroke="#00BFC4" stroke-width="1.1"/>
<text x="672.3" y="199.9" font-family='"Liberation Sans", sans-serif' font-size="7.3" font-weight="bold" fill="#000">LD</text>
<text x="672.3" y="214.4" font-family='"Liberation Sans", sans-serif' font-size="7.3" font-weight="bold" fill="#000">SD</text>
<text x="543.2" y="282.5" font-family='"Liberation Sans", sans-serif' font-size="7.8" font-weight="bold" fill="#4d4d4d" text-anchor="middle" xml:space="preserve">Short day  (SD)</text>
<rect x="453.1" y="290.6" width="66.39999999999998" height="5.0" fill="#fff" stroke="#000" stroke-width="1"/>
<rect x="519.5" y="290.1" width="112.20000000000005" height="6.0" fill="#000"/>
<text x="458.9" y="304.6" font-family='"Liberation Sans", sans-serif' font-size="7.9" font-weight="bold" fill="#4d4d4d" text-anchor="middle">0h</text>
<text x="483.1" y="304.6" font-family='"Liberation Sans", sans-serif' font-size="7.9" font-weight="bold" fill="#4d4d4d" text-anchor="middle">4h</text>
<text x="508.5" y="304.6" font-family='"Liberation Sans", sans-serif' font-size="7.9" font-weight="bold" fill="#4d4d4d" text-anchor="middle">8h</text>
<text x="534.4" y="304.6" font-family='"Liberation Sans", sans-serif' font-size="7.9" font-weight="bold" fill="#4d4d4d" text-anchor="middle">12h</text>
<text x="564.4" y="304.6" font-family='"Liberation Sans", sans-serif' font-size="7.9" font-weight="bold" fill="#4d4d4d" text-anchor="middle">16h</text>
<text x="595" y="304.6" font-family='"Liberation Sans", sans-serif' font-size="7.9" font-weight="bold" fill="#4d4d4d" text-anchor="middle">20h</text>
<text x="625.2" y="304.6" font-family='"Liberation Sans", sans-serif' font-size="7.9" font-weight="bold" fill="#4d4d4d" text-anchor="middle">24h</text>
<text x="543.2" y="321.0" font-family='"Liberation Sans", sans-serif' font-size="7.8" font-weight="bold" fill="#4d4d4d" text-anchor="middle" xml:space="preserve">Long day  (LD)</text>
<rect x="453.5" y="331.5" width="94.79999999999995" height="5.0" fill="#fff" stroke="#000" stroke-width="1"/>
<rect x="548.3" y="331.0" width="83.70000000000005" height="6.0" fill="#000"/>
<text x="459.7" y="344.4" font-family='"Liberation Sans", sans-serif' font-size="7.9" font-weight="bold" fill="#4d4d4d" text-anchor="middle">0h</text>
<text x="484" y="344.4" font-family='"Liberation Sans", sans-serif' font-size="7.9" font-weight="bold" fill="#4d4d4d" text-anchor="middle">4h</text>
<text x="509.6" y="344.4" font-family='"Liberation Sans", sans-serif' font-size="7.9" font-weight="bold" fill="#4d4d4d" text-anchor="middle">8h</text>
<text x="535" y="344.4" font-family='"Liberation Sans", sans-serif' font-size="7.9" font-weight="bold" fill="#4d4d4d" text-anchor="middle">12h</text>
<text x="565.2" y="344.4" font-family='"Liberation Sans", sans-serif' font-size="7.9" font-weight="bold" fill="#4d4d4d" text-anchor="middle">16h</text>
<text x="595.8" y="344.4" font-family='"Liberation Sans", sans-serif' font-size="7.9" font-weight="bold" fill="#4d4d4d" text-anchor="middle">20h</text>
<text x="626.1" y="344.4" font-family='"Liberation Sans", sans-serif' font-size="7.9" font-weight="bold" fill="#4d4d4d" text-anchor="middle">24h</text>
</svg>
</body></html>
